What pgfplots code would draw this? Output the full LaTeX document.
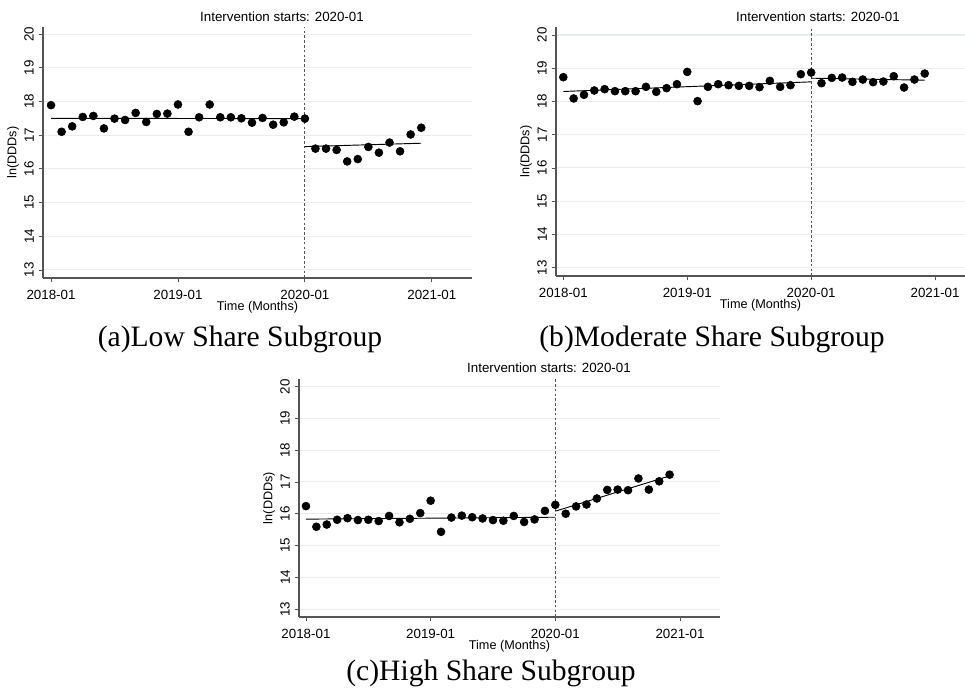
\documentclass[border=0pt]{standalone}
\usepackage{fontspec}
\setmainfont{Liberation Sans}
\newfontfamily\capfont{Liberation Serif}
\usepackage{pgfplots}
\pgfplotsset{compat=1.18}
\definecolor{gridc}{HTML}{E6EFF0}
\definecolor{axc}{HTML}{555555}

% data: month index (0 = 2018-01), ln(DDDs)
\pgfplotsset{
  itsplot/.style={
    scale only axis,
    axis x line*=bottom, axis y line*=left,
    axis line style={-, axc, line width=0.8pt},
    tick style={axc, line width=0.6pt},
    tick align=outside, major tick length=3.2pt,
    ytick={13,...,20}, xtick={0,12,24,36},
    xticklabels={2018-01,2019-01,2020-01,2021-01},
    ymajorgrids, grid style={gridc, line width=0.8pt},
    tick label style={font=\fontsize{10}{12}\selectfont},
    /pgf/number format/assume math mode=true,
    yticklabel style={rotate=90, anchor=south, inner sep=3.5pt},
    xticklabel style={inner sep=1.5pt, yshift=-4pt},
    xlabel={Time (Months)}, ylabel={ln(DDDs)},
    label style={font=\fontsize{9.5}{11}\selectfont},
    xlabel style={at={([yshift=-22pt]axis description cs:0.5,0)}, anchor=center, inner sep=0pt},
    ylabel style={at={([xshift=-22.5pt]axis description cs:0,0.5)}, anchor=center, inner sep=0pt},
    clip=false,
  },
  dots/.style={only marks, mark=*, mark size=3pt, black},
  fit/.style={no marks, black, line width=0.7pt},
  vline/.style={no marks, axc, line width=0.7pt, dash pattern=on 2pt off 1.6pt},
}

\begin{document}
\begin{tikzpicture}
\useasboundingbox (0,0) rectangle (723.75pt,517.5pt);

% ---------- (a) Low share ----------
\begin{axis}[itsplot, at={(32.25pt,309pt)}, anchor=south west,
  width=321.75pt, height=188.25pt,
  xmin=-0.76, xmax=39.8, ymin=12.76, ymax=20.21]
\addplot[vline] coordinates {(24,12.76) (24,20.21)};
\addplot[fit] coordinates {(0,17.50) (24,17.49)};
\addplot[fit] coordinates {(24,16.66) (35,16.76)};
\addplot[dots] coordinates {
(0,17.89) (1,17.10) (2,17.26) (3,17.54) (4,17.57) (5,17.20) (6,17.49) (7,17.45)
(8,17.66) (9,17.39) (10,17.63) (11,17.64) (12,17.91) (13,17.10) (14,17.53) (15,17.91)
(16,17.53) (17,17.53) (18,17.50) (19,17.37) (20,17.51) (21,17.31) (22,17.38) (23,17.55)
(24,17.49) (25,16.60) (26,16.60) (27,16.56) (28,16.22) (29,16.29) (30,16.65) (31,16.48)
(32,16.78) (33,16.52) (34,17.02) (35,17.22)};
\end{axis}

% ---------- (b) Moderate share ----------
\begin{axis}[itsplot, at={(417pt,310.5pt)}, anchor=south west,
  width=306.75pt, height=186.75pt,
  xmin=-0.71, xmax=38.9, ymin=12.75, ymax=20.24]
\addplot[vline] coordinates {(24,12.75) (24,20.24)};
\addplot[fit] coordinates {(0,18.30) (24,18.59)};
\addplot[fit] coordinates {(24,18.70) (35,18.64)};
\addplot[dots] coordinates {
(0,18.73) (1,18.09) (2,18.20) (3,18.33) (4,18.37) (5,18.31) (6,18.31) (7,18.31)
(8,18.44) (9,18.29) (10,18.40) (11,18.52) (12,18.89) (13,18.01) (14,18.44) (15,18.52)
(16,18.49) (17,18.47) (18,18.47) (19,18.43) (20,18.62) (21,18.44) (22,18.49) (23,18.82)
(24,18.87) (25,18.55) (26,18.71) (27,18.72) (28,18.59) (29,18.66) (30,18.58) (31,18.60)
(32,18.76) (33,18.42) (34,18.66) (35,18.84)};
\end{axis}

% ---------- (c) High share ----------
\begin{axis}[itsplot, at={(224.25pt,54.75pt)}, anchor=south west,
  width=315.75pt, height=178.5pt,
  xmin=-0.67, xmax=39.85, ymin=12.75, ymax=20.24]
\addplot[vline] coordinates {(24,12.75) (24,20.24)};
\addplot[fit] coordinates {(0,15.83) (24,15.89)};
\addplot[fit] coordinates {(24,16.08) (35,17.19)};
\addplot[dots] coordinates {
(0,16.24) (1,15.59) (2,15.66) (3,15.81) (4,15.86) (5,15.80) (6,15.81) (7,15.77)
(8,15.93) (9,15.73) (10,15.84) (11,16.02) (12,16.41) (13,15.43) (14,15.88) (15,15.94)
(16,15.89) (17,15.85) (18,15.80) (19,15.78) (20,15.93) (21,15.74) (22,15.82) (23,16.09)
(24,16.28) (25,16.00) (26,16.23) (27,16.29) (28,16.48) (29,16.75) (30,16.76) (31,16.74)
(32,17.11) (33,16.76) (34,17.02) (35,17.23)};
\end{axis}

% titles and captions
\begin{scope}[every node/.style={inner sep=0pt}]
\node[font=\fontsize{10}{12}\selectfont] at (211.5pt,504.75pt) {Intervention starts: 2020-01};
\node[font=\fontsize{10}{12}\selectfont] at (613.5pt,504.75pt) {Intervention starts: 2020-01};
\node[font=\fontsize{10}{12}\selectfont] at (411.75pt,241.5pt) {Intervention starts: 2020-01};
\node[font=\capfont\fontsize{22.2}{26}\selectfont] at (180pt,263.25pt) {(a)Low Share Subgroup};
\node[font=\capfont\fontsize{22.2}{26}\selectfont] at (534pt,263.25pt) {(b)Moderate Share Subgroup};
\node[font=\capfont\fontsize{22.2}{26}\selectfont] at (368.25pt,12.75pt) {(c)High Share Subgroup};
\end{scope}
\end{tikzpicture}
\end{document}
